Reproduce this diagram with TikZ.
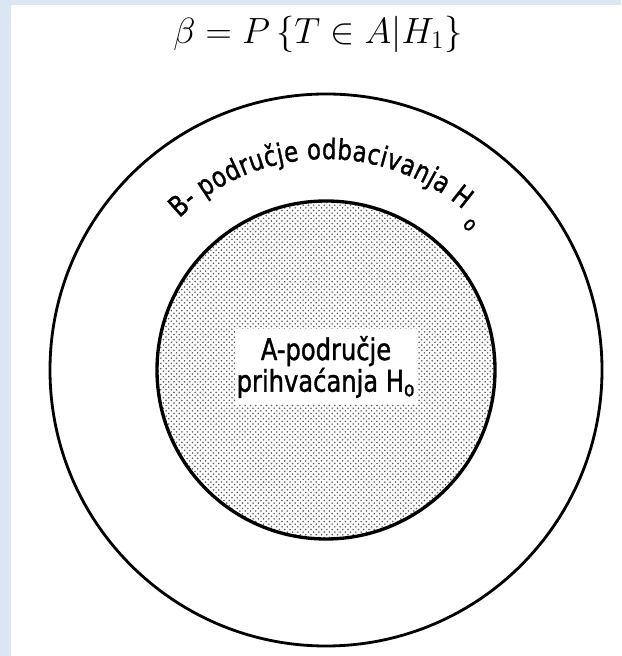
\documentclass[tikz,border=0pt]{standalone}
\usepackage{fontspec}
\newfontfamily\lblfont[FakeStretch=0.9, FakeBold=1.2]{DejaVu Sans Condensed}
\usepackage{tikz}
\usetikzlibrary{patterns,decorations.text,calc}
\definecolor{frameblue}{HTML}{DCE6F2}

\begin{document}
\begin{tikzpicture}[x=0.2mm, y=0.2mm]
  \tikzset{region/.style={draw, line width=#1},
           lbl/.style={fill=white, inner sep=0pt, align=center,
                       minimum width=3.64cm, minimum height=1.5cm,
                       font=\lblfont\fontsize{17}{18}\selectfont}}
  % page frame
  \fill[frameblue] (0,0) rectangle (621,656);
  \fill[white] (11,0) rectangle (621,651);
  \useasboundingbox (0,0) rectangle (621,656);
  \coordinate (c) at (326,286);
  \node[font=\fontsize{21}{23}\selectfont] (title) at (318,622) {$\beta = P\,\{T\in A|H_1\}$};
  \draw[region=1.6pt] (c) circle[radius=5.52cm];
  \path[pattern=crosshatch dots, pattern color=black!65] (c) circle[radius=3.38cm];
  \draw[region=1.9pt] (c) circle[radius=3.38cm];
  \node[lbl] (A) at (326,289) {A-područje\\prihvaćanja H\textsubscript{o}};
  \path[decorate, decoration={text along path, text align={fit to path},
        text={|\lblfont\fontsize{16}{17}\selectfont|B- područje odbacivanja H}}]
    ($(c)+(134:4.22cm)$) arc[start angle=134, end angle=49.5, radius=4.22cm];
  \node[rotate=-45, font=\lblfont\fontsize{12}{12}\selectfont] (sub) at ($(c)+(45.3:4.08cm)$) {o};
\end{tikzpicture}
\end{document}
